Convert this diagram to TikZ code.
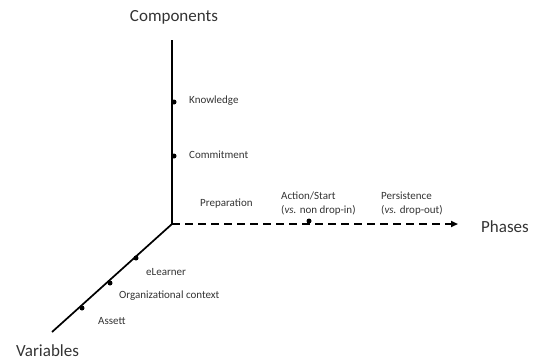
\documentclass[tikz,border=0pt]{standalone}
\usepackage{fontspec}
\setmainfont{Carlito}
\usetikzlibrary{arrows.meta}
\begin{document}
\begin{tikzpicture}[x=1pt,y=-1pt,
  axis/.style={line width=1.7pt,black},
  dashaxis/.style={line width=1.7pt,black,dash pattern=on 8pt off 5pt,-{Triangle[length=7pt,width=6pt]}},
  pt/.style={circle,fill=black,inner sep=0pt,minimum size=5pt},
  lbl/.style={font=\fontsize{11}{12}\selectfont,text=black!80,inner sep=0pt,anchor=west},
  big/.style={font=\fontsize{17}{19}\selectfont,text=black!80,inner sep=0pt},
  two/.style={lbl,align=left,font=\fontsize{11}{14}\selectfont}]
\useasboundingbox (0,0) rectangle (534,360);
\coordinate (O) at (172,224);
\coordinate (top) at (172,40);
\coordinate (low) at (52,332);
\coordinate (tip) at (458,224);
\draw[axis] (O) -- (top);
\draw[axis] (O) -- (low);
\draw[dashaxis] (O) -- (tip);
% components
\node[pt] (k) at (174,102) {};
\node[pt] (c) at (174,156) {};
\node[lbl] (kt) at (189,101) {Knowledge};
\node[lbl] (ct) at (189,155) {Commitment};
% phases
\node[pt] (a) at (309,221) {};
\node[lbl] (pr) at (200,204) {Preparation};
\node[two] (as) at (281,204) {Action/Start\\(\textit{vs.} non drop-in)};
\node[two] (pe) at (381,204) {Persistence\\(\textit{vs.} drop-out)};
% variables
\node[pt] (e) at (136,258) {};
\node[pt] (o) at (110,283) {};
\node[pt] (s) at (82,308) {};
\node[lbl] (et) at (146,272) {eLearner};
\node[lbl] (ot) at (119,296) {Organizational context};
\node[lbl] (st) at (98,321) {Assett};
% axis titles
\node[big] (comp) at (174,17) {Components};
\node[big,anchor=west] (ph) at (481,227) {Phases};
\node[big,anchor=west] (var) at (16,351) {Variables};
\end{tikzpicture}
\end{document}
